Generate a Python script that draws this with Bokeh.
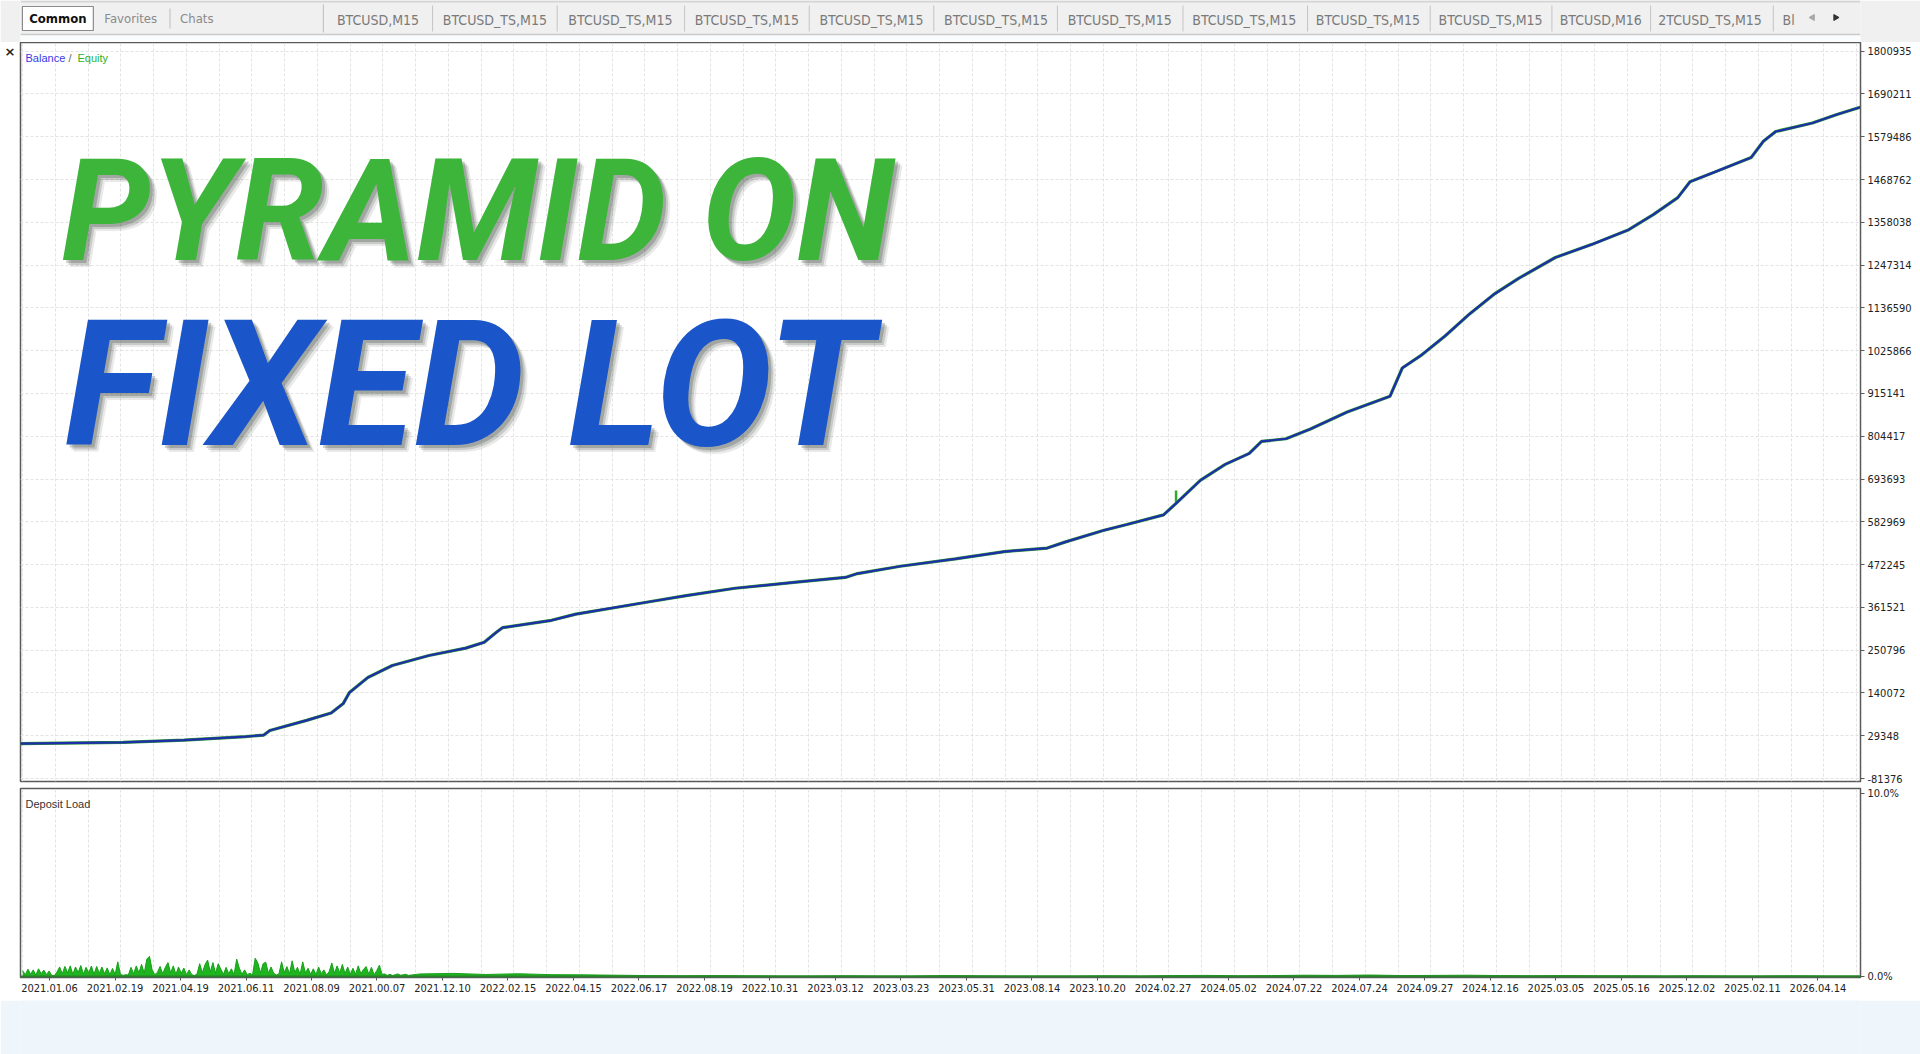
import numpy as np
from bokeh.plotting import figure
from bokeh.layouts import column
from bokeh.models import Range1d, FixedTicker, Label, Span, LinearAxis
from bokeh.core.properties import value
from bokeh.embed import file_html
from bokeh.resources import INLINE

# ---------------- data ----------------
date_labels = ["2021.01.06", "2021.02.19", "2021.04.19", "2021.06.11", "2021.08.09",
               "2021.00.07", "2021.12.10", "2022.02.15", "2022.04.15", "2022.06.17",
               "2022.08.19", "2022.10.31", "2023.03.12", "2023.03.23", "2023.05.31",
               "2023.08.14", "2023.10.20", "2024.02.27", "2024.05.02", "2024.07.22",
               "2024.07.24", "2024.09.27", "2024.12.16", "2025.03.05", "2025.05.16",
               "2025.12.02", "2025.02.11", "2026.04.14"]

value_labels = ["1800935", "1690211", "1579486", "1468762", "1358038", "1247314",
                "1136590", "1025866", "915141", "804417", "693693", "582969",
                "472245", "361521", "250796", "140072", "29348", "-81376"]

load_labels = {0: "0.0%", 10: "10.0%"}

# balance curve: position along the date axis (label index) and account value
balance_pos = [-0.449, 1.121, 2.056, 2.991, 3.271, 3.364, 3.925, 4.299, 4.486, 4.579,
               4.860, 5.234, 5.794, 6.355, 6.636, 6.822, 6.916, 7.664, 8.037, 8.598,
               9.159, 9.720, 10.467, 11.402, 12.150, 12.336, 12.991, 13.832, 14.579,
               15.234, 15.514, 16.075, 16.449, 17.009, 17.196, 17.570, 17.944, 18.318,
               18.505, 18.879, 19.252, 19.813, 20.467, 20.654, 20.935, 21.308, 21.682,
               22.056, 22.430, 22.991, 23.551, 24.112, 24.486, 24.860, 25.047, 25.421,
               25.981, 26.168, 26.355, 26.916, 27.290, 27.645]
balance = [9000, 12000, 18000, 27000, 31000, 43000, 69000, 88000, 113000, 141000,
           180000, 211000, 237000, 256000, 271000, 297000, 309000, 328000, 344000, 360000,
           376000, 392000, 411000, 427000, 439000, 449000, 468000, 487000, 506000,
           515000, 531000, 560000, 576000, 601000, 630000, 690000, 731000, 760000,
           791000, 798000, 823000, 867000, 908000, 981000, 1013000, 1064000, 1121000,
           1172000, 1213000, 1267000, 1301000, 1339000, 1378000, 1422000, 1463000, 1488000,
           1526000, 1568000, 1593000, 1615000, 1637000, 1656000]

# equity excursion above balance
equity_spike_pos = [17.2]
equity_spike = [664000]

# deposit load (%), busy early period then the quiet remainder
load_early = [0.32, 0.10, 0.40, 0.12, 0.36, 0.08, 0.42, 0.15, 0.35, 0.10, 0.30, 0.06,
              0.05, 0.24,
              0.52, 0.15, 0.55, 0.20, 0.58, 0.12, 0.52, 0.22, 0.60, 0.14, 0.50, 0.20,
              0.57, 0.12, 0.55, 0.18, 0.52, 0.15, 0.47, 0.10, 0.44, 0.12,
              0.80,
              0.12, 0.06, 0.10, 0.08,
              0.50, 0.15, 0.58, 0.20, 0.66, 0.18, 0.95,
              1.10,
              0.36, 0.10, 0.22,
              0.55, 0.15, 0.50, 0.76, 0.20, 0.58, 0.12, 0.52, 0.18, 0.46, 0.10, 0.36,
              0.10, 0.05, 0.14,
              0.70, 0.20, 0.64, 0.90, 0.25, 0.76, 0.18, 0.70,
              0.40, 0.12, 0.50, 0.15, 0.42, 0.10,
              0.95,
              0.45, 0.12, 0.36, 0.10, 0.18, 0.08,
              1.00,
              0.74, 0.20, 0.70, 0.78, 0.18, 0.52,
              0.18, 0.08, 0.14,
              0.80, 0.20, 0.54, 0.15, 0.86, 0.22, 0.50, 0.12,
              0.80, 0.20, 0.45, 0.12,
              0.42, 0.10, 0.52, 0.15, 0.36, 0.08, 0.26,
              0.74, 0.18, 0.58, 0.20, 0.66, 0.15, 0.52, 0.12,
              0.45, 0.12, 0.58, 0.15, 0.40, 0.54, 0.12, 0.50, 0.10, 0.32,
              0.62, 0.12,
              0.14, 0.06, 0.12, 0.05, 0.10, 0.14, 0.07, 0.09, 0.12, 0.06]
load_late = [0.14, 0.17, 0.11, 0.15, 0.10, 0.09, 0.07, 0.05, 0.04, 0.05, 0.04, 0.03,
             0.03, 0.04, 0.03, 0.03, 0.05, 0.04, 0.03, 0.03, 0.03, 0.04, 0.03, 0.05,
             0.06, 0.04, 0.05, 0.07, 0.06, 0.08, 0.05, 0.06, 0.07, 0.05, 0.04, 0.05,
             0.04, 0.04, 0.03, 0.04, 0.03, 0.03, 0.04, 0.03, 0.03]

tab_names = ["BTCUSD,M15", "BTCUSD_TS,M15", "BTCUSD_TS,M15", "BTCUSD_TS,M15",
             "BTCUSD_TS,M15", "BTCUSD_TS,M15", "BTCUSD_TS,M15", "BTCUSD_TS,M15",
             "BTCUSD_TS,M15", "BTCUSD_TS,M15", "BTCUSD,M16", "2TCUSD_TS,M15", "Bl"]

# ---------------- layout constants ----------------
W = 1920
AXIS_FONT = "DejaVu Sans Condensed"
UI_FONT = "DejaVu Sans Condensed"
TITLE_FONT = "Roboto"
GRID_COLOR = "#e3e3e3"


def bare(fig, bg):
    fig.axis.visible = False
    fig.grid.visible = False
    fig.outline_line_color = None
    fig.background_fill_color = bg
    fig.border_fill_color = bg


def style_axis(ax, tick_out):
    ax.major_tick_out = tick_out
    ax.major_tick_in = 0
    ax.minor_tick_out = 0
    ax.minor_tick_in = 0
    ax.axis_line_color = "#5a5a5a"
    ax.major_tick_line_color = "#5a5a5a"
    ax.major_label_standoff = 3
    ax.major_label_text_font = AXIS_FONT
    ax.major_label_text_font_size = "11px"
    ax.major_label_text_color = "#222222"


# ---------------- tab strip ----------------
tab_centers = [373, 495, 626, 758, 888, 1018, 1147, 1277, 1406, 1534, 1649, 1763, 1845]
tab_seps = [430, 560, 693, 823, 953, 1082, 1213, 1343, 1471, 1598, 1701, 1829]

tabs = figure(width=W, height=42, x_range=Range1d(0, W), y_range=Range1d(42, 0),
              output_backend="svg", toolbar_location=None, min_border=0)
bare(tabs, "#f0f0f0")
tabs.quad(left=0, right=W, top=34, bottom=42, color="#fbfcfd")
tabs.segment(x0=0, y0=34, x1=W, y1=34, line_color="#c9c9c9", line_width=1.5)
tabs.segment(x0=0, y0=1, x1=W, y1=1, line_color="#d4d4d4", line_width=2)
tabs.quad(left=2, right=76, top=6, bottom=30, fill_color="#ffffff",
          line_color="#8a8a8a", line_width=1.2)
tabs.text(x=[39], y=[18], text=["Common"], text_align="center", text_baseline="middle",
          text_font=value(UI_FONT), text_font_size="13px",
          text_font_style="bold", text_color="#111111")
tabs.text(x=[115, 184], y=[18, 18], text=["Favorites", "Chats"], text_align="center",
          text_baseline="middle", text_font=value(UI_FONT),
          text_font_size="13px", text_color="#8a8a8a")
tabs.segment(x0=[156, 316], y0=[8, 4], x1=[156, 316], y1=[28, 32],
             line_color="#bdbdbd", line_width=1)
tabs.segment(x0=tab_seps, y0=[5] * len(tab_seps), x1=tab_seps, y1=[31] * len(tab_seps),
             line_color="#c4c4c4", line_width=1)
tabs.text(x=tab_centers, y=[19] * len(tab_centers), text=tab_names, text_align="center",
          text_baseline="middle", text_font=value(UI_FONT),
          text_font_size="14px", text_color="#7a7a7a")
tabs.scatter(x=[1870], y=[17], marker="triangle", angle=np.pi / 2, size=6,
             color="#a8a8a8")
tabs.scatter(x=[1894], y=[17], marker="triangle", angle=-np.pi / 2, size=6,
             color="#333333")

# ---------------- balance / equity panel ----------------
x_rng = Range1d(-0.443, 27.65)
label_ticks = list(range(len(date_labels)))
grid_x = [-0.41 + 0.5 * k for k in range(57)]
value_ticks = [int(s) for s in value_labels]

main = figure(width=W, height=744, x_range=x_rng, y_range=Range1d(-89140, 1823450),
              output_backend="svg", toolbar_location=None, x_axis_location=None,
              y_axis_location="right", min_border_left=20, min_border_right=60,
              min_border_top=0, min_border_bottom=5)
main.background_fill_color = "#ffffff"
main.border_fill_color = "#ffffff"
main.outline_line_color = "#5a5a5a"
main.outline_line_width = 1.5

main.xgrid.ticker = FixedTicker(ticks=grid_x)
main.ygrid.ticker = FixedTicker(ticks=value_ticks)
for g in (main.xgrid, main.ygrid):
    g.grid_line_color = GRID_COLOR
    g.grid_line_dash = "3 2"
    g.grid_line_width = 1

ya = main.yaxis[0]
ya.ticker = FixedTicker(ticks=value_ticks)
ya.major_label_overrides = {v: s for v, s in zip(value_ticks, value_labels)}
style_axis(ya, 4)

# close button of the panel, set in the narrow left margin
close_axis = LinearAxis(ticker=FixedTicker(ticks=[value_ticks[0]]),
                        major_label_overrides={value_ticks[0]: "×"})
close_axis.axis_line_color = None
close_axis.major_tick_line_color = None
close_axis.minor_tick_line_color = None
close_axis.major_tick_out = 0
close_axis.major_tick_in = 0
close_axis.minor_tick_out = 0
close_axis.minor_tick_in = 0
close_axis.major_label_standoff = 5
close_axis.major_label_text_font = "DejaVu Sans"
close_axis.major_label_text_font_size = "13px"
close_axis.major_label_text_font_style = "bold"
close_axis.major_label_text_color = "#222222"
main.add_layout(close_axis, "left")

# title lettering with a soft drop shadow
for txt, sx, sy, size, col in [("PYRAMID ON", 41, 570, "142px", "#3cb53a"),
                               ("FIXED LOT", 44, 397, "176px", "#1a56c9")]:
    for off, alpha in [(7, 0.10), (5, 0.16), (3, 0.22)]:
        main.add_layout(Label(x=sx + off, y=sy - off, x_units="screen", y_units="screen",
                              text=txt, text_font=TITLE_FONT, text_font_size=size,
                              text_font_style="bold italic", text_color="#1e2a1e",
                              text_alpha=alpha, text_baseline="alphabetic"))
    main.add_layout(Label(x=sx, y=sy, x_units="screen", y_units="screen", text=txt,
                          text_font=TITLE_FONT, text_font_size=size,
                          text_font_style="bold italic", text_color=col,
                          text_baseline="alphabetic"))

main.line(balance_pos, balance, line_color="#2f9a2f", line_width=3.2)
spike_base = list(np.interp(equity_spike_pos, balance_pos, balance))
main.segment(x0=equity_spike_pos, y0=spike_base, x1=equity_spike_pos, y1=equity_spike,
             line_color="#2fa82f", line_width=2.5)
main.line(balance_pos, balance, line_color="#1e2eaa", line_width=2.2)

for txt, sx, col in [("Balance", 5, "#3838e8"), ("/", 48, "#666666"), ("Equity", 57, "#2bb32b")]:
    main.add_layout(Label(x=sx, y=724, x_units="screen", y_units="screen", text=txt,
                          text_font="Liberation Sans", text_font_size="11px",
                          text_color=col, text_baseline="middle"))

# ---------------- deposit load panel ----------------
load_pos = list(np.linspace(-0.41, 5.48, len(load_early))) + \
    list(np.linspace(5.66, 27.65, len(load_late)))
load = load_early + load_late

dep = figure(width=W, height=214, x_range=x_rng, y_range=Range1d(-0.055, 10.27),
             output_backend="svg", toolbar_location=None, y_axis_location="right",
             min_border_left=20, min_border_right=60, min_border_top=2,
             min_border_bottom=23)
dep.background_fill_color = "#ffffff"
dep.border_fill_color = "#ffffff"
dep.outline_line_color = "#5a5a5a"
dep.outline_line_width = 1.5
dep.xgrid.ticker = FixedTicker(ticks=grid_x)
dep.ygrid.visible = False
dep.xgrid.grid_line_color = GRID_COLOR
dep.xgrid.grid_line_dash = "3 2"

xa = dep.xaxis[0]
xa.ticker = FixedTicker(ticks=label_ticks)
xa.major_label_overrides = {i: s for i, s in zip(label_ticks, date_labels)}
style_axis(xa, 3)

ya2 = dep.yaxis[0]
ya2.ticker = FixedTicker(ticks=list(load_labels))
ya2.major_label_overrides = load_labels
style_axis(ya2, 4)

dep.varea(x=load_pos, y1=0, y2=load, fill_color="#1fb51f")
dep.line(load_pos, load, line_color="#17a01a", line_width=1)
dep.add_layout(Span(location=0, dimension="width", line_color="#2a7f2a", line_width=2))
dep.add_layout(Label(x=5, y=174, x_units="screen", y_units="screen", text="Deposit Load",
                     text_font="Liberation Sans", text_font_size="11px",
                     text_color="#333333", text_baseline="middle"))

# ---------------- bottom strip ----------------
foot = figure(width=W, height=54, x_range=Range1d(0, 1), y_range=Range1d(0, 1),
              output_backend="svg", toolbar_location=None, min_border=0)
bare(foot, "#eef5fb")

layout = column(tabs, main, dep, foot, spacing=0)
open("out.html", "w").write(file_html(layout, INLINE))
